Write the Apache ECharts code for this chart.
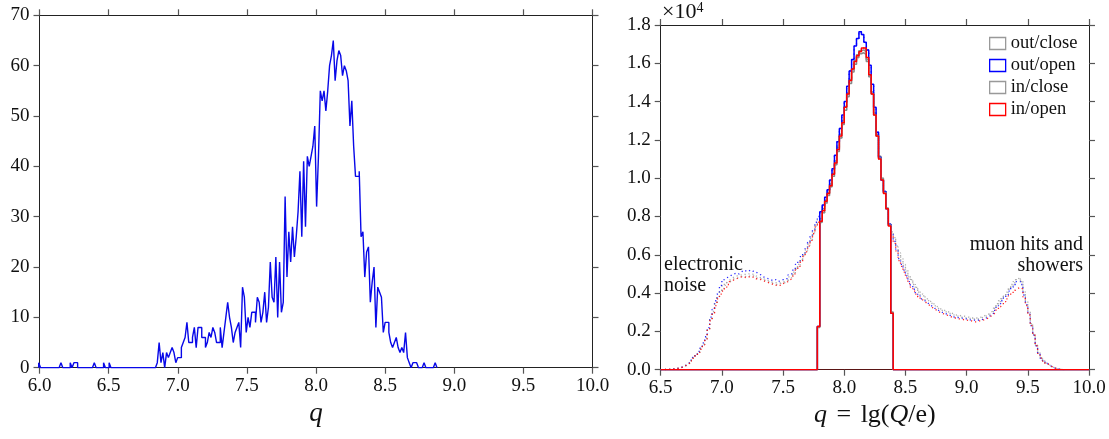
<!DOCTYPE html>
<html><head><meta charset="utf-8">
<script src="https://cdn.jsdelivr.net/npm/echarts@6/dist/echarts.min.js"></script>
<style>html,body{margin:0;padding:0;background:#fff}#c{width:1109px;height:439px}</style>
</head><body><div id="c"></div>
<script>
// ---------------- DATA ----------------
// Left panel: histogram of q (uniform bins)
const leftBinStart = 5.9944;
const leftBinWidth = 0.0134;
const leftNoiseCounts = [1,0,0,0,0,0,0,0,0,0, 0,0,1,0,0,0,0,1,0,1, 1,0,0,0,0,0,0,0,0,0, 1,0,0,0,0,1,0,0,1,0, 0,0,0,0,0,0,0,0,0,0, 0,0,0,0,0,0,0,0,0,0, 0,0,0,0];
const leftRiseCounts = [1,5,1,3,0,3,2,3,4,3,1,2,2,4,5,6,9,5,5,6,8,4,8,8,6,6,4,5,7,6,8,7,5,5,8,4,7,10,13,10,8,5,7,8,9,4,16,14,7,10,8,11,11,9,14,13,9,11,15,9,12,21,14,13,22];
const leftPeakCounts = [10,21,11,13,34,18,27,21,28,22,26,31,39,26,41,28,42,40,42,44,48,32,42,55,53,55,51,55,60,62,65,57,61,63,62,58,60,59,57,48];
const leftFallCounts = [53,44,38,38,39,26,27,18,23,24,13,17,20,8,16,15,14,7,9,9,7,5,4,5,6,4,3,4,3,7,2,1,0,1,1,1,0,0,0,1,0,0,0,0,0,1];

// Right panel: histograms of q = lg(Q/e), bins of 0.02 from 6.50 to 9.80
const rightBinStart = 6.5;
const rightBinWidth = 0.02;
const cutFirstBin = 64;   // 7.78
const cutLastBin = 94;    // 8.38
const seriesNames = ['out/close', 'out/open', 'in/close', 'in/open'];

const outCloseLow = [5,10,15,22,32,48,68,95,140,200,275,370,480,615,770,930,1100,1350,1660,2120,2650,3050,3480,3820,4150,4400,4550,4650,4750,4850,4900,4900,4950,5000,4950,5000,4950,5000,4900,4850,4800,4750,4700,4650,4600,4550,4550,4500,4550,4600,4600,4700,4850,4950,5100,5350,5500,5750,6000,6250,6550,6850,7200,7550];
const outClosePeak = [7850,7900,8400,8850,9250,9700,10250,10900,11600,12300,13000,13750,14450,15150,15700,16150,16450,16650,16700,16600,16200,15400,14500,13400,12300,11150,10000,9300,8450,7600,7200];
const outCloseHigh = [6900,6500,6100,5800,5500,5200,4900,4700,4500,4300,4100,3950,3850,3700,3600,3500,3400,3300,3200,3150,3100,3050,3000,2950,2900,2850,2850,2800,2800,2750,2750,2700,2700,2700,2700,2750,2800,2850,2900,3000,3100,3250,3450,3600,3750,3900,4050,4250,4450,4600,4750,4800,4650,4100,3550,3000,2400,1850,1300,880,620,460,340,240,160,95,55,28,12,5];

const outOpenLow = [5,10,15,25,35,50,70,100,150,210,290,390,500,640,800,960,1130,1400,1720,2200,2750,3150,3600,3950,4400,4700,4800,4850,4950,5000,5050,5000,5100,5200,5150,5200,5100,5150,5100,5000,4950,4850,4800,4750,4700,4650,4700,4600,4650,4700,4700,4800,4950,5050,5250,5500,5650,5900,6100,6400,6650,6950,7300,7700];
const outOpenPeak = [8000,8250,8600,9000,9400,9900,10500,11200,11900,12600,13300,14000,14800,15600,16200,16900,17300,17650,17500,17100,16700,15900,14900,13700,12400,11100,9900,9300,8400,7600,7100];
const outOpenHigh = [6700,6300,5800,5500,5200,4900,4600,4400,4200,4000,3850,3700,3600,3500,3400,3300,3200,3150,3050,3000,2950,2900,2850,2800,2750,2750,2700,2700,2650,2650,2600,2600,2600,2550,2600,2600,2650,2700,2750,2850,2950,3100,3300,3450,3600,3750,3900,4100,4300,4450,4600,4600,4450,3900,3400,2900,2300,1800,1250,850,600,450,330,230,150,90,50,25,10,5];

const inCloseLow = [5,10,15,20,30,45,66,92,135,195,268,360,470,600,755,915,1080,1320,1630,2080,2600,3000,3420,3760,4050,4250,4400,4550,4650,4750,4800,4800,4850,4900,4850,4900,4850,4900,4800,4800,4750,4700,4650,4600,4550,4500,4450,4450,4500,4550,4550,4650,4750,4850,5000,5250,5450,5700,5950,6200,6500,6800,7150,7500];
const inClosePeak = [7650,7700,8200,8700,9100,9550,10100,10700,11400,12100,12800,13550,14250,14950,15550,15950,16300,16500,16550,16450,16100,15300,14400,13300,12200,11050,9950,9250,8400,7550,7150];
const inCloseHigh = [6850,6450,6050,5750,5450,5150,4850,4650,4450,4250,4050,3900,3800,3650,3550,3450,3350,3250,3150,3100,3050,3000,2950,2900,2850,2800,2800,2750,2750,2700,2700,2650,2650,2650,2650,2700,2750,2800,2850,2950,3050,3200,3400,3550,3700,3850,4000,4200,4400,4550,4700,4750,4600,4050,3500,2950,2350,1820,1280,870,610,455,335,235,155,92,52,26,11,5];

const inOpenLow = [5,10,15,20,30,45,65,90,130,190,260,350,460,590,740,900,1060,1300,1600,2050,2550,2950,3350,3700,3950,4100,4300,4450,4600,4700,4750,4800,4850,4850,4800,4850,4800,4850,4750,4750,4700,4650,4600,4550,4500,4450,4400,4450,4400,4500,4550,4600,4700,4800,5000,5200,5400,5650,5900,6150,6450,6750,7100,7450];
const inOpenPeak = [7700,7750,8300,8800,9200,9600,10200,10800,11500,12200,12900,13700,14400,15100,15700,16100,16400,16600,16800,16800,16300,15400,14400,13300,12200,11000,9900,9200,8400,7500,7000];
const inOpenHigh = [6600,6200,5700,5400,5100,4800,4500,4300,4100,3950,3800,3650,3550,3450,3350,3250,3150,3100,3000,2950,2900,2850,2800,2750,2700,2700,2650,2650,2600,2600,2550,2550,2500,2500,2550,2550,2600,2650,2700,2800,2900,3000,3150,3300,3400,3550,3700,3850,4000,4150,4250,4300,4200,3800,3350,2850,2300,1800,1250,850,600,450,330,230,150,90,50,25,10,5];

// partial (cut) edge bins of the selected q window
const cutFirstValues = [2250, 2250, 2200, 2250];
const cutLastValues = [3000, 2950, 3000, 2950];

const tickFmt = v => v.toFixed(1);

// ---------------- BUILD ----------------
const FONT = 'Liberation Serif';
const leftCounts = leftNoiseCounts.concat(leftRiseCounts, leftPeakCounts, leftFallCounts);
const edge = (s, w, k) => +(s + k * w).toFixed(5);

function histPoints(start, w, counts) {
  const pts = [[edge(start, w, 0), 0]];
  counts.forEach((c, k) => pts.push([edge(start, w, k), c]));
  pts.push([edge(start, w, counts.length), 0]);
  return pts;
}

const fullSets = [
  outCloseLow.concat(outClosePeak, outCloseHigh),
  outOpenLow.concat(outOpenPeak, outOpenHigh),
  inCloseLow.concat(inClosePeak, inCloseHigh),
  inOpenLow.concat(inOpenPeak, inOpenHigh)
];
const colors = ['#8a8a8a', '#0000ff', '#8a8a8a', '#ff0000'];

function solidPoints(full, i) {
  const pts = [[6.5, 0]];
  for (let k = cutFirstBin; k <= cutLastBin; k++) {
    let v = full[k];
    if (k === cutFirstBin) v = cutFirstValues[i];
    if (k === cutLastBin) v = cutLastValues[i];
    pts.push([edge(rightBinStart, rightBinWidth, k), v]);
  }
  pts.push([edge(rightBinStart, rightBinWidth, cutLastBin + 1), 0]);
  pts.push([10, 0]);
  return pts;
}

const axisCommon = {
  axisLine: { show: true, onZero: false, lineStyle: { color: '#222', width: 1 } },
  axisTick: { show: true, inside: false, length: 6, lineStyle: { color: '#555', width: 1.2 } },
  splitLine: { show: false },
  axisLabel: { fontFamily: FONT, fontSize: 19, color: '#111' }
};
function ax(extra) { return echarts.util.merge(echarts.util.clone(axisCommon), extra, true); }

const series = [];
series.push({
  type: 'line', xAxisIndex: 0, yAxisIndex: 0, step: 'end', symbol: 'none', silent: true,
  data: histPoints(leftBinStart, leftBinWidth, leftCounts),
  lineStyle: { color: '#0808e8', width: 1.4 }, z: 3
});
fullSets.forEach((full, i) => {
  series.push({
    name: seriesNames[i], type: 'line', xAxisIndex: 2, yAxisIndex: 2, step: 'end', symbol: 'none',
    data: histPoints(rightBinStart, rightBinWidth, full),
    lineStyle: { color: colors[i], width: 1.3, type: [1.2, 3], opacity: i % 2 === 0 ? 0.7 : 0.85 },
    itemStyle: { color: colors[i] }, z: 2 + i * 0.1
  });
});
fullSets.forEach((full, i) => {
  series.push({
    name: seriesNames[i], type: 'line', xAxisIndex: 2, yAxisIndex: 2, step: 'end', symbol: 'none',
    data: solidPoints(full, i),
    lineStyle: { color: colors[i], width: 1.5 },
    itemStyle: { color: colors[i] }, z: 3 + i * 0.1
  });
});

const option = {
  animation: false,
  backgroundColor: '#fff',
  grid: [
    { left: 39.5, top: 15.3, width: 553, height: 352.4 },
    { left: 660.7, top: 25, width: 428.3, height: 344.7 }
  ],
  xAxis: [
    ax({ gridIndex: 0, type: 'value', min: 6, max: 10, interval: 0.5, position: 'bottom',
      axisLabel: { formatter: tickFmt, margin: 9 },
      name: 'q', nameLocation: 'middle', nameGap: 28,
      nameTextStyle: { fontFamily: FONT, fontSize: 27, fontStyle: 'italic', color: '#111' } }),
    ax({ gridIndex: 0, type: 'value', min: 6, max: 10, interval: 0.5, position: 'top', axisLabel: { show: false } }),
    ax({ gridIndex: 1, type: 'value', min: 6.5, max: 10, interval: 0.5, position: 'bottom',
      axisLine: { lineStyle: { color: '#5a1414' } },
      axisLabel: { formatter: tickFmt, margin: 9 },
      name: '{i|q} {e|=} lg({i|Q}/e)', nameLocation: 'middle', nameGap: 30,
      nameTextStyle: { fontFamily: FONT, fontSize: 26, color: '#111',
        rich: {
          i: { fontFamily: FONT, fontSize: 26, fontStyle: 'italic', color: '#111' },
          e: { fontFamily: FONT, fontSize: 26, color: '#111', padding: [0, 3, 0, 3] }
        } } }),
    ax({ gridIndex: 1, type: 'value', min: 6.5, max: 10, interval: 0.5, position: 'top', axisLabel: { show: false } })
  ],
  yAxis: [
    ax({ gridIndex: 0, type: 'value', min: 0, max: 70, interval: 10, position: 'left', axisLabel: { margin: 10 } }),
    ax({ gridIndex: 0, type: 'value', min: 0, max: 70, interval: 10, position: 'right', axisLabel: { show: false } }),
    ax({ gridIndex: 1, type: 'value', min: 0, max: 18000, interval: 2000, position: 'left',
      axisLabel: { margin: 10, formatter: v => (v / 10000).toFixed(1) } }),
    ax({ gridIndex: 1, type: 'value', min: 0, max: 18000, interval: 2000, position: 'right', axisLabel: { show: false } })
  ],
  legend: {
    orient: 'vertical', left: 984, top: 29, itemWidth: 16, itemHeight: 12, itemGap: 3,
    icon: 'rect', selectedMode: false,
    textStyle: { fontFamily: FONT, fontSize: 18.5, color: '#111' },
    data: seriesNames.map((n, i) => ({
      name: n,
      itemStyle: { color: '#fff', borderColor: i === 1 ? '#0000ff' : i === 3 ? '#ff0000' : '#999', borderWidth: 1.3 }
    }))
  },
  graphic: [
    { type: 'text', left: 662, top: 1, style: {
      text: '×10{s|4}', fontFamily: FONT, fontSize: 22, fill: '#111',
      rich: { s: { fontFamily: FONT, fontSize: 14, verticalAlign: 'top', padding: [0, 0, 9, 0], fill: '#111' } } } },
    { type: 'text', left: 664, top: 255, style: {
      text: 'electronic', fontFamily: FONT, fontSize: 20, fill: '#111' } },
    { type: 'text', left: 664, top: 276, style: {
      text: 'noise', fontFamily: FONT, fontSize: 20, fill: '#111' } },
    { type: 'text', right: 26, top: 235, style: {
      text: 'muon hits and', fontFamily: FONT, fontSize: 20, fill: '#111' } },
    { type: 'text', right: 26, top: 256, style: {
      text: 'showers', fontFamily: FONT, fontSize: 20, fill: '#111' } }
  ],
  series: series
};

const chart = echarts.init(document.getElementById('c'), null, { renderer: 'canvas' });
chart.setOption(option);
</script>
</body></html>
